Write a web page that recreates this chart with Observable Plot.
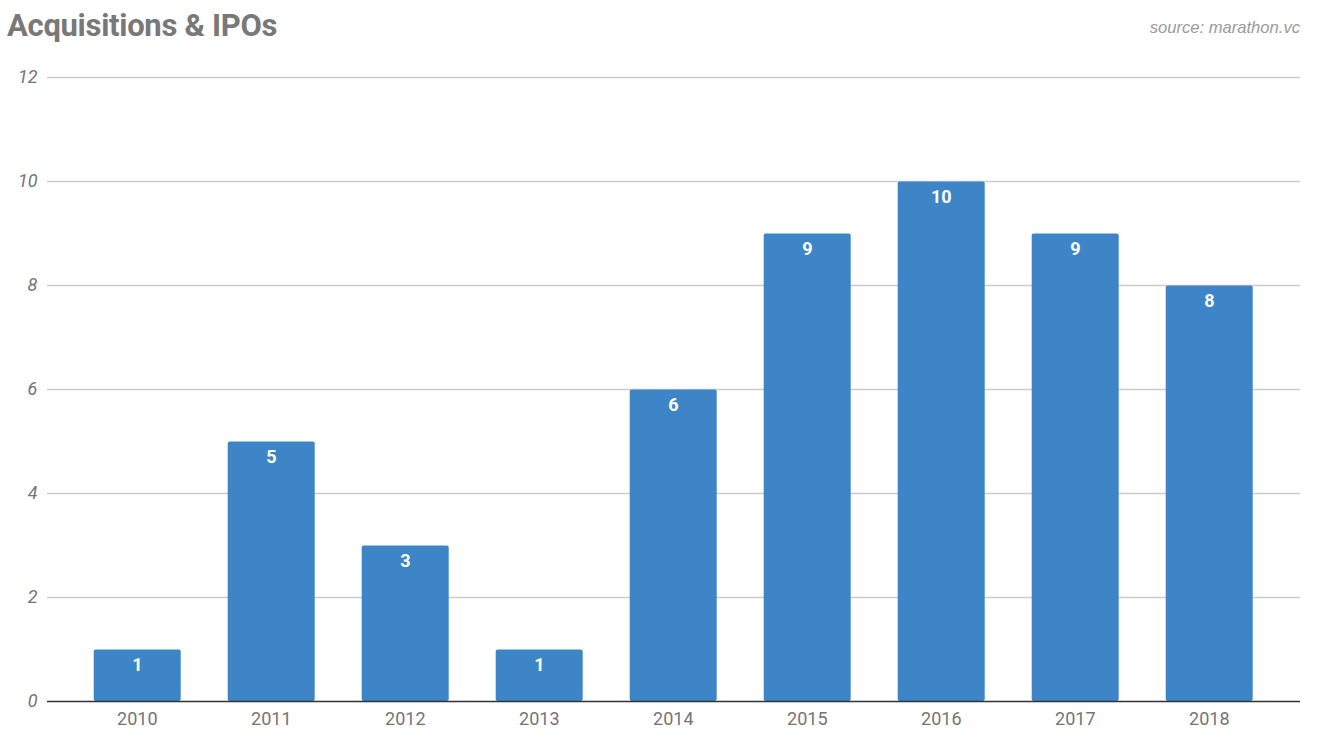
<!DOCTYPE html>
<html><head><meta charset="utf-8">
<script src="https://cdn.jsdelivr.net/npm/d3@7"></script>
<script src="https://cdn.jsdelivr.net/npm/@observablehq/plot@0.6"></script>
<style>
html,body{margin:0;padding:0;background:#fff;overflow:hidden}
#wrap{position:relative;width:1320px;height:743px}
#title{position:absolute;left:7px;top:7px;font:700 31px Roboto,sans-serif;color:#787878;letter-spacing:-0.3px}
#source{position:absolute;right:20px;top:18px;font:italic 16.6px "Liberation Sans",sans-serif;color:#9a9a9a}
#chart{position:absolute;left:0;top:0}
</style></head><body>
<div id="wrap"><div id="chart"></div>
<div id="title">Acquisitions &amp; IPOs</div>
<div id="source">source: marathon.vc</div></div>
<script>
const years=["2010","2011","2012","2013","2014","2015","2016","2017","2018"];
const counts=[1,5,3,1,6,9,10,9,8];
const yTicks=[0,2,4,6,8,10,12];
const data=years.map((y,i)=>({year:y,count:counts[i]}));
const plot=Plot.plot({
  width:1320,height:743,marginLeft:47,marginRight:20,marginTop:77,marginBottom:42,
  style:{fontFamily:"Roboto,sans-serif",background:"transparent"},
  x:{domain:years,padding:0.35,align:0.5,label:null},
  y:{domain:[0,12],label:null},
  marks:[
    Plot.ruleY(yTicks.filter(d=>d>0),{stroke:"#cccccc",strokeWidth:1.3,strokeOpacity:1}),
    Plot.barY(data,{x:"year",y:"count",fill:"#3d85c6",rx:2,insetTop:0.5,dx:-0.3}),
    Plot.text(data,{x:"year",y:"count",text:d=>String(d.count),dy:16,dx:-0.7,fill:"#fff",fontSize:18,fontWeight:700}),
    Plot.ruleY([0],{stroke:"#333333",strokeWidth:1.5,strokeOpacity:1}),
    Plot.axisX({tickSize:0,tickPadding:11,dx:-0.7,fontSize:18,fill:"#757575",label:null}),
    Plot.axisY({ticks:yTicks,tickSize:0,tickPadding:10,fontSize:18,fontStyle:"italic",fill:"#757575",label:null,tickFormat:d=>String(d)})
  ]
});
document.getElementById("chart").appendChild(plot);
</script></body></html>
